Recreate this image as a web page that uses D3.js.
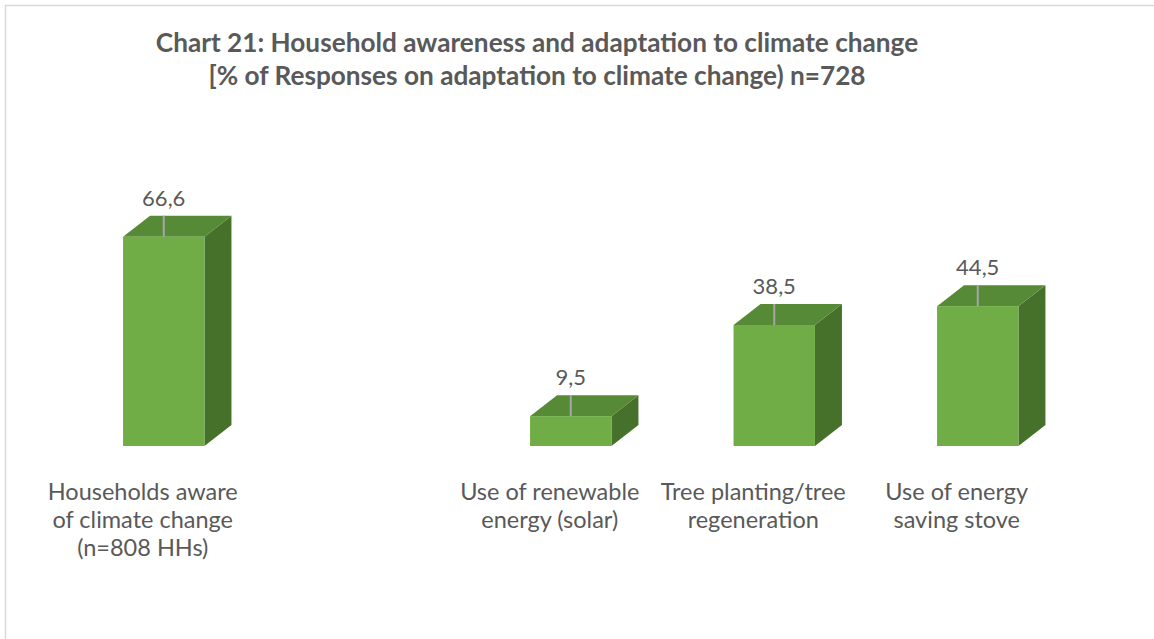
<!DOCTYPE html>
<html>
<head>
<meta charset="utf-8">
<script src="https://cdn.jsdelivr.net/npm/d3@7"></script>
<style>
  html, body { margin: 0; padding: 0; background: #ffffff; }
  svg { display: block; }
  text { font-family: Lato, "Open Sans", "Liberation Sans", sans-serif; fill: #595959; }
</style>
</head>
<body>
<svg id="chart" width="1154" height="639"></svg>
<script>
// Chart data
const titleLines = [
  "Chart 21: Household awareness and adaptation to climate change",
  "[% of Responses on adaptation to climate change) n=728"
];
const categories = [
  ["Households aware", "of climate change", "(n=808 HHs)"],
  [],
  ["Use of renewable", "energy (solar)"],
  ["Tree planting/tree", "regeneration"],
  ["Use of energy", "saving stove"]
];
const values = [66.6, null, 9.5, 38.5, 44.5];

const W = 1154, H = 639;
const svg = d3.select("#chart");

// Chart frame
svg.append("rect")
  .attr("x", 5.5).attr("y", 5.5)
  .attr("width", W + 10).attr("height", H + 10)
  .attr("fill", "none")
  .attr("stroke", "#d9d9d9")
  .attr("stroke-width", 1.5);

// Title
svg.append("text")
  .attr("text-anchor", "middle")
  .attr("font-weight", "bold")
  .attr("font-size", 26.2)
  .selectAll("tspan")
  .data(titleLines)
  .join("tspan")
  .attr("x", 537)
  .attr("y", (d, i) => 52 + i * 32.5)
  .text(d => d);

// Scales
const x = d3.scaleBand()
  .domain(d3.range(categories.length))
  .range([62, 1079.5])
  .paddingInner(0.6)
  .paddingOuter(0.3);

const y = d3.scaleLinear()
  .domain([0, 70])
  .range([446, 226]);

// 3D extrusion offsets
const depthX = 27, depthY = -21;

const colors = { front: "#70ad47", top: "#578a36", side: "#46712b" };

const bars = values
  .map((v, i) => ({ v, i }))
  .filter(d => d.v != null);

const g = svg.append("g");

const bar = g.selectAll("g.bar")
  .data(bars)
  .join("g")
  .attr("class", "bar");

// side face
bar.append("path")
  .attr("fill", colors.side)
  .attr("d", d => {
    const x1 = x(d.i) + x.bandwidth(), y0 = y(0), y1 = y(d.v);
    return `M${x1},${y0} L${x1 + depthX},${y0 + depthY} L${x1 + depthX},${y1 + depthY} L${x1},${y1} Z`;
  });

// top face
bar.append("path")
  .attr("fill", colors.top)
  .attr("d", d => {
    const x0 = x(d.i), x1 = x0 + x.bandwidth(), y1 = y(d.v);
    return `M${x0},${y1} L${x0 + depthX},${y1 + depthY} L${x1 + depthX},${y1 + depthY} L${x1},${y1} Z`;
  });

// front face
bar.append("rect")
  .attr("fill", colors.front)
  .attr("x", d => x(d.i))
  .attr("y", d => y(d.v))
  .attr("width", x.bandwidth())
  .attr("height", d => y(0) - y(d.v));

// leader lines and value labels
const leader = 21;
bar.append("line")
  .attr("x1", d => x(d.i) + x.bandwidth() / 2)
  .attr("x2", d => x(d.i) + x.bandwidth() / 2)
  .attr("y1", d => y(d.v))
  .attr("y2", d => y(d.v) - leader)
  .attr("stroke", "#a6a6a6")
  .attr("stroke-width", 2);

bar.append("text")
  .attr("text-anchor", "middle")
  .attr("font-size", 22)
  .attr("x", d => x(d.i) + x.bandwidth() / 2)
  .attr("y", d => y(d.v) - leader - 10)
  .text(d => d3.format(".1f")(d.v).replace(".", ","));

// Category labels
const labelShift = -21;
svg.append("g")
  .selectAll("text")
  .data(categories.map((lines, i) => ({ lines, i })))
  .join("text")
  .attr("text-anchor", "middle")
  .attr("font-size", 23.5)
  .each(function(d) {
    d3.select(this).selectAll("tspan")
      .data(d.lines)
      .join("tspan")
      .attr("x", x(d.i) + x.bandwidth() / 2 + labelShift)
      .attr("y", (t, k) => 500 + k * 28)
      .text(t => t);
  });
</script>
</body>
</html>
